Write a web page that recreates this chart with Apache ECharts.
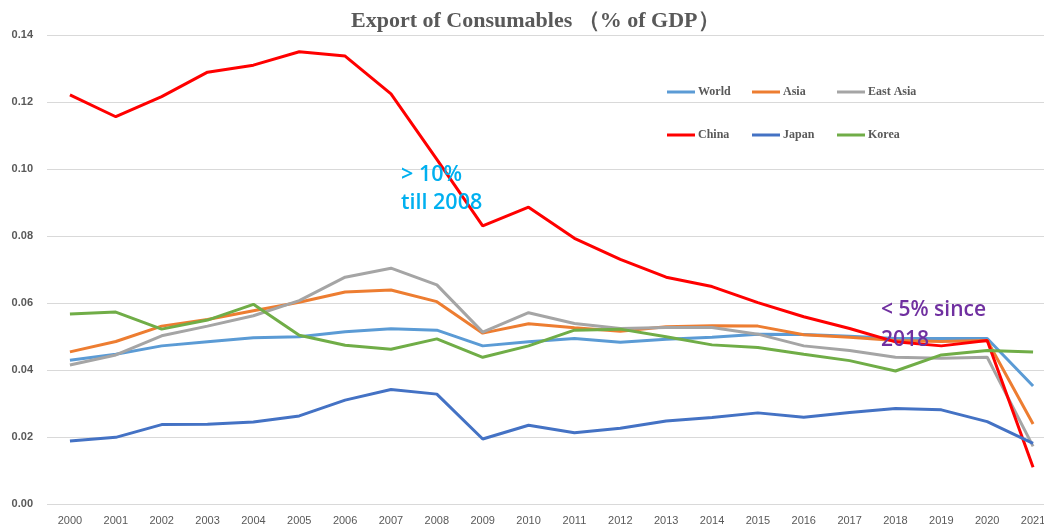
<!DOCTYPE html>
<html>
<head>
<meta charset="utf-8">
<script src="https://cdn.jsdelivr.net/npm/echarts@6/dist/echarts.min.js"></script>
<style>
  html, body { margin: 0; padding: 0; background: #fff; }
  #chart { width: 1044px; height: 529px; }
</style>
</head>
<body>
<div id="chart"></div>
<script>
const years = ['2000', '2001', '2002', '2003', '2004', '2005', '2006', '2007', '2008', '2009', '2010',
  '2011', '2012', '2013', '2014', '2015', '2016', '2017', '2018', '2019', '2020', '2021']
const world = [0.0429, 0.0447, 0.0472, 0.0484, 0.0496, 0.0499, 0.0514, 0.0523, 0.0519, 0.0472, 0.0484,
  0.0494, 0.0483, 0.0492, 0.0498, 0.0507, 0.0506, 0.0501, 0.0494, 0.0494, 0.0494, 0.0352]
const asia = [0.0454, 0.0485, 0.0531, 0.0551, 0.0577, 0.0602, 0.0633, 0.0639, 0.0604, 0.0510, 0.0538,
  0.0526, 0.0516, 0.0529, 0.0532, 0.0531, 0.0505, 0.0498, 0.0488, 0.0485, 0.0488, 0.0239]
const eastAsia = [0.0415, 0.0445, 0.0502, 0.0531, 0.0562, 0.0607, 0.0677, 0.0704, 0.0654, 0.0513, 0.0571,
  0.0539, 0.0524, 0.0527, 0.0527, 0.0507, 0.0472, 0.0458, 0.0438, 0.0435, 0.0438, 0.0172]
const china = [0.1221, 0.1156, 0.1216, 0.1289, 0.1310, 0.1350, 0.1337, 0.1224, 0.1029, 0.0830, 0.0886,
  0.0793, 0.0730, 0.0677, 0.0649, 0.0601, 0.0559, 0.0524, 0.0484, 0.0472, 0.0488, 0.0110]
const japan = [0.0188, 0.0199, 0.0237, 0.0238, 0.0245, 0.0263, 0.0310, 0.0342, 0.0328, 0.0194, 0.0235,
  0.0213, 0.0226, 0.0248, 0.0258, 0.0272, 0.0259, 0.0273, 0.0285, 0.0281, 0.0246, 0.0181]
const korea = [0.0567, 0.0573, 0.0522, 0.0549, 0.0596, 0.0504, 0.0474, 0.0462, 0.0493, 0.0438, 0.0472,
  0.0519, 0.0522, 0.0499, 0.0475, 0.0467, 0.0447, 0.0428, 0.0397, 0.0445, 0.0458, 0.0454]

const names = ['World', 'Asia', 'East Asia', 'China', 'Japan', 'Korea']
const values = [world, asia, eastAsia, china, japan, korea]
const colors = ['#5B9BD5', '#ED7D31', '#A5A5A5', '#FF0000', '#4472C4', '#70AD47']

// one legend per item so they sit on a fixed 85px column grid like the excel original
const legends = names.map((n, i) => ({
  data: [n],
  left: 667 + (i % 3) * 85,
  top: i < 3 ? 86 : 129,
  padding: 0,
  icon: 'rect',
  itemWidth: 28,
  itemHeight: 3,
  textStyle: {
    color: '#595959',
    fontFamily: 'Liberation Serif',
    fontWeight: 'bold',
    fontSize: 12,
    padding: [0, 0, 0, -2]
  }
}))

const chart = echarts.init(document.getElementById('chart'))
chart.setOption({
  animation: false,
  title: {
    text: 'Export of Consumables （% of GDP）',
    left: 346,
    top: 5,
    textStyle: {
      color: '#595959',
      fontFamily: 'Liberation Serif',
      fontWeight: 'bold',
      fontSize: 22
    }
  },
  legend: legends,
  grid: {
    left: 47,
    top: 35,
    bottom: 25,
    right: -12,
    outerBoundsMode: 'none'
  },
  xAxis: {
    type: 'category',
    data: years,
    axisLine: { show: false },
    axisTick: { show: false },
    axisLabel: {
      color: '#595959',
      fontSize: 11,
      margin: 11,
      interval: 0
    }
  },
  yAxis: {
    type: 'value',
    min: 0,
    max: 0.14,
    interval: 0.02,
    axisLabel: {
      color: '#595959',
      fontSize: 11,
      fontWeight: 'bold',
      margin: 14,
      formatter: v => v.toFixed(2)
    },
    splitLine: { lineStyle: { color: '#D9D9D9', width: 1 } }
  },
  graphic: [
    {
      type: 'text',
      left: 401,
      top: 161,
      z: 100,
      zlevel: 1,
      style: {
        text: '> 10%\ntill 2008',
        fill: '#00B0F0',
        font: '600 21.5px "Open Sans"',
        lineHeight: 28
      }
    },
    {
      type: 'text',
      left: 881,
      top: 295,
      z: 100,
      zlevel: 1,
      style: {
        text: '< 5% since\n2018',
        fill: '#7030A0',
        font: '600 21px "Open Sans"',
        lineHeight: 30
      }
    }
  ],
  series: names.map((n, i) => ({
    name: n,
    type: 'line',
    data: values[i],
    symbol: 'none',
    lineStyle: { width: 3, color: colors[i] },
    itemStyle: { color: colors[i] }
  }))
})
</script>
</body>
</html>
